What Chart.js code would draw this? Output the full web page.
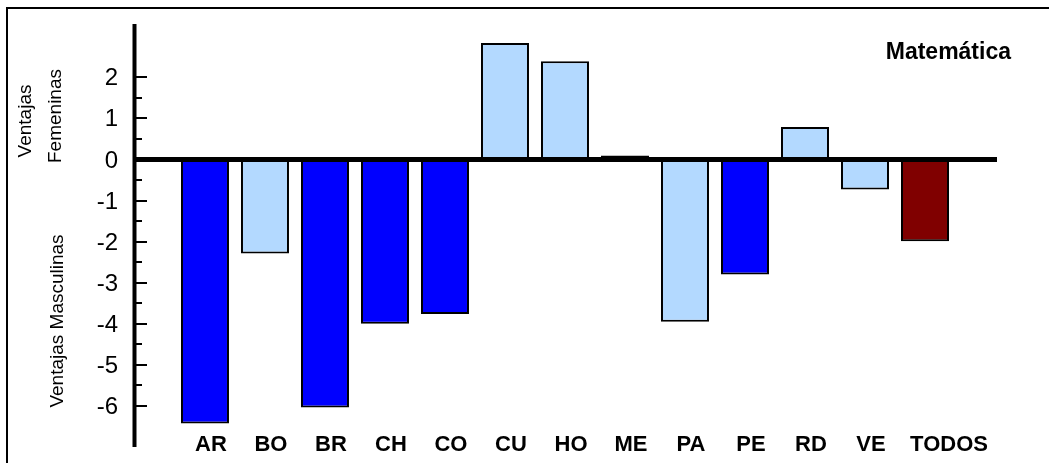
<!DOCTYPE html>
<html>
<head>
<meta charset="utf-8">
<title>Matemática</title>
<script src="https://cdn.jsdelivr.net/npm/chart.js@4.4.0/dist/chart.umd.min.js"></script>
<style>
  html, body { margin: 0; padding: 0; background: #fff; }
  canvas { display: block; }
</style>
</head>
<body>
<canvas id="grafico" width="1049" height="463"></canvas>
<script>
// ----------------- DATOS -----------------
const categorias = ['AR','BO','BR','CH','CO','CU','HO','ME','PA','PE','RD','VE','TODOS'];
const diferencias = [-6.43, -2.29, -6.04, -4.0, -3.76, 2.84, 2.39, 0.1, -3.95, -2.8, 0.79, -0.73, -1.99];
// 'sig' = diferencia significativa, 'ns' = no significativa, 'total' = promedio regional
const significancia = ['sig','ns','sig','sig','sig','ns','ns','ns','ns','sig','ns','ns','total'];
const ticksY = [-6, -5, -4, -3, -2, -1, 0, 1, 2];
const ticksMenoresY = [-5.5, -4.5, -3.5, -2.5, -1.5, -0.5, 0.5, 1.5];
const tituloArea = 'Matemática';
const tituloFem = ['Ventajas', 'Femeninas'];
const tituloMasc = 'Ventajas Masculinas';

const colores = { sig: '#0000FF', ns: '#B3D9FF', total: '#800000' };
const FUENTE = '"Liberation Sans", Arial, sans-serif';

// ----------------- DIBUJO EXTRA (ejes, etiquetas, linea cero, textos) -----------------
const extras = {
  id: 'extras',
  afterDraw(chart) {
    const ctx = chart.ctx;
    const x = chart.scales.x;
    const y = chart.scales.y;
    const area = chart.chartArea;
    ctx.save();

    // marco
    ctx.strokeStyle = '#000';
    ctx.lineWidth = 2;
    ctx.strokeRect(7, 8, 1100, 500);

    // eje Y
    ctx.lineWidth = 4;
    ctx.beginPath();
    ctx.moveTo(area.left + 0.5, area.top);
    ctx.lineTo(area.left + 0.5, area.bottom);
    ctx.stroke();

    // marcas y etiquetas del eje Y
    ctx.lineWidth = 2;
    ctx.fillStyle = '#000';
    ctx.font = '24px ' + FUENTE;
    ctx.textAlign = 'right';
    ctx.textBaseline = 'middle';
    ticksY.forEach(v => {
      const py = Math.round(y.getPixelForValue(v));
      ctx.beginPath(); ctx.moveTo(area.left, py); ctx.lineTo(area.left + 13, py); ctx.stroke();
      ctx.fillText(String(v), area.left - 16, py + 1);
    });
    ticksMenoresY.forEach(v => {
      const py = Math.round(y.getPixelForValue(v));
      ctx.beginPath(); ctx.moveTo(area.left, py); ctx.lineTo(area.left + 8, py); ctx.stroke();
    });

    // linea cero
    const y0 = y.getPixelForValue(0);
    ctx.lineWidth = 5;
    ctx.beginPath();
    ctx.moveTo(area.left, y0);
    ctx.lineTo(area.right, y0);
    ctx.stroke();

    // etiquetas de paises
    ctx.font = 'bold 22px ' + FUENTE;
    ctx.textAlign = 'center';
    categorias.forEach((c, i) => {
      const dx = (i === categorias.length - 1) ? 24 : 6;
      ctx.fillText(c, x.getPixelForValue(i) + dx, area.bottom - 2);
    });

    // titulos
    ctx.font = 'bold 23px ' + FUENTE;
    ctx.textAlign = 'right';
    ctx.fillText(tituloArea, 1011, 53);

    ctx.font = '19px ' + FUENTE;
    ctx.textAlign = 'center';
    const rot = (txt, px, py) => {
      ctx.save();
      ctx.translate(px, py);
      ctx.rotate(-Math.PI / 2);
      ctx.fillText(txt, 0, 0);
      ctx.restore();
    };
    rot(tituloFem[0], 26, 121);
    rot(tituloFem[1], 56, 116);
    rot(tituloMasc, 58, 321);

    ctx.restore();
  }
};

new Chart(document.getElementById('grafico'), {
  type: 'bar',
  data: {
    datasets: [{
      data: diferencias.map((v, i) => ({ x: i, y: v })),
      backgroundColor: significancia.map(s => colores[s]),
      borderColor: '#000',
      borderWidth: 2,
      barPercentage: 0.8,
      categoryPercentage: 1
    }]
  },
  options: {
    responsive: false,
    animation: false,
    devicePixelRatio: 1,
    layout: { padding: { left: 134, top: 24, right: 52, bottom: 16 } },
    plugins: { legend: { display: false }, tooltip: { enabled: false }, title: { display: false } },
    scales: {
      x: { type: 'linear', display: false, offset: false, grid: { offset: false }, min: -1.183, max: 13.2 },
      y: { display: false, min: -7, max: 3.3 }
    }
  },
  plugins: [extras]
});
</script>
</body>
</html>
